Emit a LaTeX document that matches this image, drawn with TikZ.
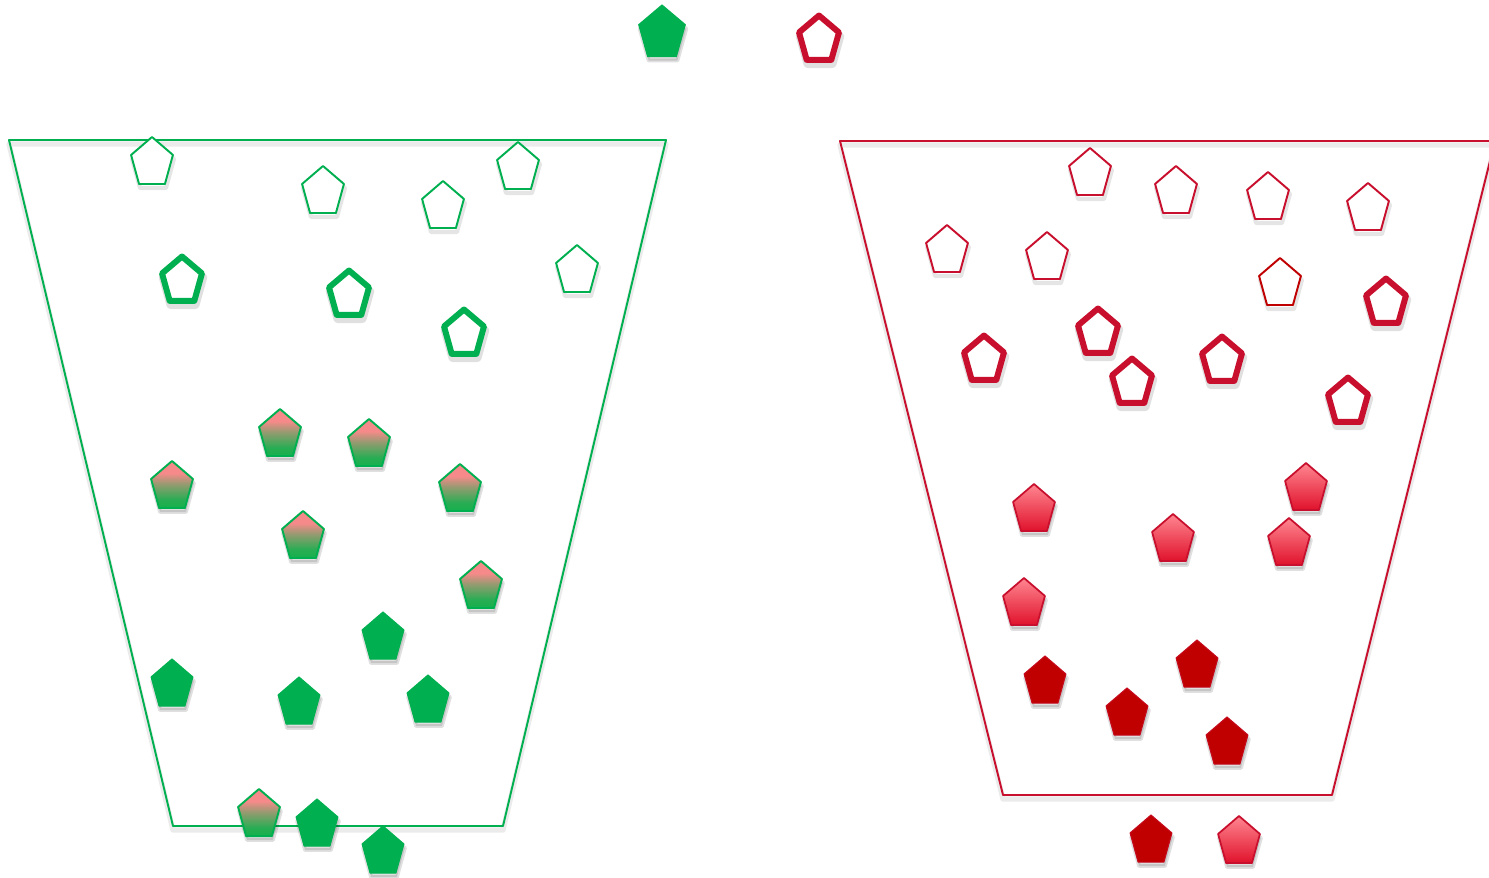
\documentclass[tikz,border=0pt]{standalone}
\usetikzlibrary{calc}

\definecolor{gmain}{RGB}{0,176,80}
\definecolor{rmain}{RGB}{200,16,46}
\definecolor{rdark}{RGB}{192,0,0}
\definecolor{gtop}{RGB}{246,138,138}
\definecolor{gbot}{RGB}{22,176,78}
\definecolor{rtop}{RGB}{255,134,144}
\definecolor{rbot}{RGB}{224,18,44}

% pink at the top fading into green at the bottom
\pgfdeclareverticalshading{pinkgreen}{100bp}{%
  color(0bp)=(gbot); color(25bp)=(gbot); color(34bp)=(gbot!92!gtop);
  color(50bp)=(gtop!55!gbot); color(62bp)=(gtop); color(100bp)=(gtop)}

\tikzset{
  % soft shadows drawn under each shape
  sh thin/.style={draw=black, opacity=0.10, line width=2.4pt},
  sh thick/.style={draw=black, opacity=0.12, line width=4.8pt},
  sh fill/.style={fill=black, draw=black, opacity=0.12, line width=2.2pt},
  sh cup/.style={draw=black, opacity=0.08, line width=3pt},
  % shape looks
  thin green/.style={draw=gmain, line width=1.1pt, fill=white},
  thick green/.style={draw=gmain, line width=3.4pt, fill=white},
  grad green/.style={draw=gmain, line width=1.1pt, shading=pinkgreen},
  solid green/.style={draw=gmain, line width=0.6pt, fill=gmain},
  thin red/.style={draw=rmain, line width=1.1pt, fill=white},
  thin dark/.style={draw=rdark, line width=1.1pt, fill=white},
  thick red/.style={draw=rmain, line width=3.4pt, fill=white},
  grad red/.style={draw=rmain, line width=1.0pt, top color=rtop, bottom color=rbot},
  solid dark/.style={draw=rmain!60!rdark, line width=0.6pt, fill=rdark},
  cup green/.style={draw=gmain, line width=1.1pt},
  cup red/.style={draw=rmain, line width=1.1pt},
}

% pentagon: shadow style, look, centre x, centre y, x radius, y radius
\newcommand\drawpent[6]{%
  \path[#1, shift={(1,4)}] (#3,#4) +(270:#5 and #6) -- +(342:#5 and #6) -- +(54:#5 and #6)
     -- +(126:#5 and #6) -- +(198:#5 and #6) -- cycle;
  \path[#2] (#3,#4) +(270:#5 and #6) -- +(342:#5 and #6) -- +(54:#5 and #6)
     -- +(126:#5 and #6) -- +(198:#5 and #6) -- cycle;}
\newcommand\pThinG[2]{\drawpent{sh thin}{thin green}{#1}{#2}{22}{26}}
\newcommand\pThickG[2]{\drawpent{sh thick}{thick green}{#1}{#2}{21}{24.5}}
\newcommand\pGradG[2]{\drawpent{sh fill}{grad green}{#1}{#2}{22}{26}}
\newcommand\pSolidG[2]{\drawpent{sh fill}{solid green}{#1}{#2}{22}{26}}
\newcommand\pThinR[2]{\drawpent{sh thin}{thin red}{#1}{#2}{22}{26}}
\newcommand\pThinD[2]{\drawpent{sh thin}{thin dark}{#1}{#2}{22}{26}}
\newcommand\pThickR[2]{\drawpent{sh thick}{thick red}{#1}{#2}{21}{24.5}}
\newcommand\pGradR[2]{\drawpent{sh fill}{grad red}{#1}{#2}{22}{26}}
\newcommand\pSolidD[2]{\drawpent{sh fill}{solid dark}{#1}{#2}{22}{26}}

\begin{document}
\begin{tikzpicture}[x=0.02cm, y=-0.02cm, line join=round]
\useasboundingbox (0,0) rectangle (1489,878);

% ---- the two cups ----
\draw[sh cup, shift={(0,4)}] (9,140) -- (666,140) -- (503,826) -- (173,826) -- cycle;
\draw[cup green] (9,140) -- (666,140) -- (503,826) -- (173,826) -- cycle;
\draw[sh cup, shift={(0,4)}] (840,141) -- (1495,141) -- (1332,795) -- (1003,795) -- cycle;
\draw[cup red] (840,141) -- (1495,141) -- (1332,795) -- (1003,795) -- cycle;

% ---- key shapes on top ----
\drawpent{sh fill}{solid green}{662}{33.5}{24.5}{28.5}
\pThickR{819}{40}

% ---- left cup ----
\pThinG{152}{163}
\pThinG{323}{192}
\pThinG{443}{207}
\pThinG{518}{168}
\pThinG{577}{271}

\pThickG{182}{281}
\pThickG{349}{295}
\pThickG{464}{334}

\pGradG{280}{435}
\pGradG{369}{445}
\pGradG{172}{487}
\pGradG{460}{490}
\pGradG{303}{537}
\pGradG{481}{587}
\pGradG{259}{815}

\pSolidG{383}{638}
\pSolidG{172}{685}
\pSolidG{299}{703}
\pSolidG{428}{701}
\pSolidG{317}{825}
\pSolidG{383}{852}

% ---- right cup ----
\pThinR{1090}{174}
\pThinR{1176}{192}
\pThinR{1268}{198}
\pThinR{1368}{209}
\pThinR{947}{251}
\pThinR{1047}{258}
\pThinD{1280}{284}

\pThickR{1386}{303}
\pThickR{984}{360}
\pThickR{1098}{333}
\pThickR{1132}{383}
\pThickR{1222}{361}
\pThickR{1348}{402}

\pGradR{1034}{510}
\pGradR{1306}{489}
\pGradR{1173}{540}
\pGradR{1289}{544}
\pGradR{1024}{604}
\pGradR{1239}{842}

\pSolidD{1045}{682}
\pSolidD{1127}{714}
\pSolidD{1197}{666}
\pSolidD{1227}{743}
\pSolidD{1151}{841}
\end{tikzpicture}
\end{document}
